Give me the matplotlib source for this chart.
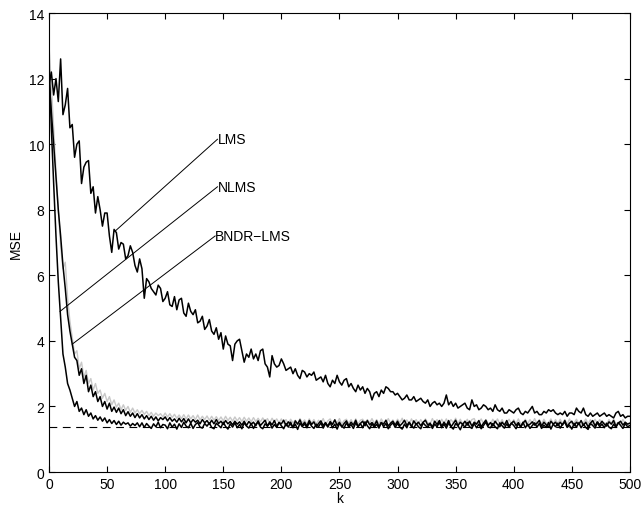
#!/usr/bin/env python3
"""Learning curves (MSE vs k) for LMS, NLMS and BNDR-LMS."""

import matplotlib

matplotlib.use("Agg")
import matplotlib.pyplot as plt
import numpy as np


# sampled every 2 iterations, k = 0 .. 500
K_STEP = 2
K_MAX = 500

LMS = [
    11.8, 12.2, 11.5, 12.0, 11.3, 12.6, 10.9, 11.2, 11.7, 10.5,
    10.6, 9.6, 10.0, 10.1, 8.8, 9.3, 9.45, 9.5, 8.5, 8.7,
    7.9, 8.4, 8.0, 7.5, 7.9, 7.9, 7.2, 6.7, 7.4, 7.3,
    6.8, 7.0, 6.95, 6.5, 6.6, 6.9, 6.7, 6.3, 6.1, 6.5,
    6.2, 5.3, 5.9, 5.8, 5.6, 5.5, 5.4, 5.7, 5.6, 5.2,
    5.3, 5.5, 5.1, 5.05, 5.35, 4.95, 5.25, 5.3, 4.85, 4.75,
    5.15, 4.9, 4.8, 4.95, 4.55, 4.6, 4.75, 4.35, 4.45, 4.65,
    4.3, 4.2, 4.4, 4.05, 4.25, 3.75, 4.15, 3.9, 3.85, 3.4,
    3.9, 4.0, 4.05, 3.7, 3.35, 3.6, 3.5, 3.75, 3.45, 3.6,
    3.4, 3.7, 3.75, 3.3, 3.2, 2.9, 3.55, 3.3, 3.2, 3.25,
    3.45, 3.3, 3.1, 3.15, 3.2, 3.0, 3.15, 2.95, 2.85, 3.1,
    3.05, 2.9, 3.0, 2.95, 3.05, 2.8, 2.85, 2.9, 2.75, 2.95,
    2.7, 2.6, 2.8, 2.7, 2.95, 2.75, 2.65, 2.8, 2.85, 2.6,
    2.7, 2.55, 2.45, 2.65, 2.5, 2.6, 2.4, 2.55, 2.45, 2.2,
    2.4, 2.45, 2.3, 2.5, 2.4, 2.6, 2.55, 2.45, 2.45, 2.35,
    2.4, 2.3, 2.2, 2.25, 2.35, 2.2, 2.2, 2.3, 2.15, 2.2,
    2.25, 2.15, 2.1, 2.2, 2.0, 2.1, 2.15, 2.05, 2.1, 2.0,
    2.1, 2.35, 2.05, 2.15, 2.0, 2.1, 1.95, 2.0, 2.05, 2.1,
    1.95, 1.9, 2.2, 2.0, 2.05, 1.9, 1.95, 2.05, 2.0, 1.9,
    1.95, 1.85, 2.05, 1.9, 1.85, 1.95, 1.8, 1.8, 1.9, 1.85,
    1.8, 1.9, 1.95, 1.8, 1.75, 1.85, 1.8, 1.9, 2.0, 1.8,
    1.85, 1.75, 1.75, 1.85, 1.8, 1.9, 1.85, 1.9, 1.8, 1.75,
    1.8, 1.75, 1.85, 1.7, 1.8, 1.8, 1.75, 1.95, 1.85, 1.8,
    1.95, 1.75, 1.7, 1.8, 1.7, 1.75, 1.8, 1.7, 1.75, 1.8,
    1.7, 1.75, 1.7, 1.65, 1.8, 1.85, 1.7, 1.75, 1.65, 1.7,
    1.7,
]

NLMS = [
    12.5, 10.5, 8.8, 7.2, 5.8, 4.7, 3.6, 3.2, 2.7, 2.5,
    2.25, 2.0, 2.15, 1.85, 1.95, 1.75, 1.9, 1.7, 1.8, 1.62,
    1.72, 1.58, 1.68, 1.55, 1.65, 1.5, 1.6, 1.48, 1.57, 1.45,
    1.55, 1.43, 1.52, 1.46, 1.5, 1.4, 1.48, 1.42, 1.5, 1.38,
    1.5, 1.36, 1.48, 1.4, 1.33, 1.47, 1.38, 1.52, 1.35, 1.45,
    1.43, 1.32, 1.5, 1.37, 1.46, 1.31, 1.47, 1.36, 1.52, 1.4,
    1.35, 1.49, 1.33, 1.45, 1.51, 1.37, 1.34, 1.48, 1.4, 1.5,
    1.36, 1.32, 1.49, 1.42, 1.35, 1.52, 1.39, 1.31, 1.47, 1.37,
    1.5, 1.35, 1.45, 1.32, 1.5, 1.4, 1.34, 1.48, 1.33, 1.46,
    1.52, 1.37, 1.32, 1.47, 1.4, 1.5, 1.34, 1.45, 1.36, 1.51,
    1.41, 1.32, 1.48, 1.37, 1.52, 1.35, 1.46, 1.3, 1.49, 1.38,
    1.47, 1.35, 1.51, 1.4, 1.33, 1.46, 1.38, 1.5, 1.34, 1.48,
    1.37, 1.51, 1.35, 1.46, 1.31, 1.48, 1.4, 1.34, 1.5, 1.37,
    1.45, 1.33, 1.5, 1.38, 1.48, 1.35, 1.53, 1.41, 1.32, 1.47,
    1.36, 1.46, 1.34, 1.51, 1.38, 1.48, 1.32, 1.43, 1.5, 1.36,
    1.48, 1.37, 1.31, 1.46, 1.35, 1.52, 1.41, 1.34, 1.48, 1.38,
    1.32, 1.5, 1.42, 1.36, 1.48, 1.33, 1.46, 1.38, 1.52, 1.35,
    1.46, 1.34, 1.5, 1.38, 1.31, 1.48, 1.41, 1.29, 1.46, 1.36,
    1.51, 1.38, 1.33, 1.48, 1.35, 1.46, 1.32, 1.42, 1.52, 1.37,
    1.35, 1.48, 1.38, 1.32, 1.5, 1.41, 1.34, 1.47, 1.36, 1.49,
    1.42, 1.32, 1.48, 1.37, 1.52, 1.35, 1.46, 1.33, 1.42, 1.5,
    1.37, 1.48, 1.33, 1.43, 1.36, 1.51, 1.31, 1.46, 1.38, 1.49,
    1.34, 1.46, 1.52, 1.36, 1.43, 1.31, 1.48, 1.37, 1.5, 1.35,
    1.46, 1.36, 1.3, 1.48, 1.42, 1.34, 1.51, 1.38, 1.46, 1.35,
    1.49, 1.37, 1.32, 1.46, 1.36, 1.51, 1.42, 1.33, 1.48, 1.38,
    1.42,
]

BNDR_LMS = [
    12.0, 11.0, 10.0, 9.0, 8.0, 7.2, 6.3, 5.6, 4.8, 4.3,
    3.9, 3.5, 3.4, 2.95, 3.15, 2.7, 2.95, 2.45, 2.65, 2.3,
    2.45, 2.15, 2.3, 2.0, 2.15, 1.92, 2.1, 1.85, 1.98, 1.82,
    1.95, 1.78, 1.9, 1.72, 1.84, 1.7, 1.8, 1.66, 1.78, 1.65,
    1.75, 1.62, 1.72, 1.6, 1.7, 1.58, 1.68, 1.56, 1.66, 1.6,
    1.68, 1.56, 1.66, 1.55, 1.62, 1.52, 1.64, 1.53, 1.63, 1.5,
    1.62, 1.5, 1.6, 1.52, 1.58, 1.47, 1.6, 1.5, 1.57, 1.46,
    1.58, 1.47, 1.6, 1.48, 1.55, 1.45, 1.57, 1.47, 1.54, 1.44,
    1.55, 1.46, 1.53, 1.43, 1.55, 1.42, 1.54, 1.46, 1.52, 1.41,
    1.56, 1.42, 1.5, 1.58, 1.4, 1.53, 1.44, 1.57, 1.39, 1.51,
    1.47, 1.58, 1.41, 1.53, 1.45, 1.37, 1.56, 1.46, 1.59, 1.42,
    1.52, 1.4, 1.57, 1.45, 1.53, 1.38, 1.48, 1.56, 1.42, 1.51,
    1.4, 1.54, 1.45, 1.59, 1.42, 1.52, 1.37, 1.48, 1.56, 1.41,
    1.52, 1.43, 1.58, 1.39, 1.48, 1.55, 1.41, 1.57, 1.44, 1.51,
    1.42, 1.56, 1.38, 1.51, 1.46, 1.58, 1.4, 1.49, 1.55, 1.43,
    1.55, 1.41, 1.48, 1.58, 1.42, 1.51, 1.38, 1.56, 1.45, 1.52,
    1.41, 1.52, 1.58, 1.43, 1.49, 1.37, 1.55, 1.45, 1.57, 1.4,
    1.52, 1.42, 1.57, 1.38, 1.48, 1.58, 1.41, 1.52, 1.45, 1.55,
    1.43, 1.55, 1.4, 1.52, 1.46, 1.57, 1.38, 1.49, 1.58, 1.42,
    1.51, 1.4, 1.55, 1.45, 1.38, 1.52, 1.43, 1.57, 1.4, 1.49,
    1.55, 1.42, 1.51, 1.38, 1.49, 1.57, 1.41, 1.46, 1.53, 1.43,
    1.49, 1.57, 1.4, 1.52, 1.44, 1.37, 1.55, 1.46, 1.52, 1.41,
    1.52, 1.43, 1.57, 1.39, 1.49, 1.55, 1.41, 1.52, 1.45, 1.57,
    1.42, 1.52, 1.38, 1.49, 1.57, 1.41, 1.53, 1.44, 1.55, 1.46,
    1.4, 1.53, 1.46, 1.57, 1.39, 1.49, 1.55, 1.43, 1.52, 1.46,
    1.49,
]

# light grey curve (unlabelled in the original)
GREY = [
    13.0, 11.8, 10.5, 9.2, 8.0, 6.9, 6.2, 6.4, 5.3, 4.6,
    4.1, 3.6, 3.7, 3.15, 3.35, 2.9, 3.1, 2.7, 2.85, 2.5,
    2.7, 2.4, 2.5, 2.25, 2.4, 2.15, 2.3, 2.05, 2.2, 1.98,
    2.1, 1.9, 2.05, 1.88, 2.0, 1.82, 1.95, 1.8, 1.9, 1.78,
    1.88, 1.76, 1.85, 1.72, 1.82, 1.7, 1.8, 1.72, 1.78, 1.68,
    1.8, 1.68, 1.78, 1.66, 1.76, 1.64, 1.74, 1.63, 1.75, 1.62,
    1.74, 1.62, 1.72, 1.6, 1.74, 1.59, 1.7, 1.6, 1.71, 1.58,
    1.7, 1.58, 1.69, 1.57, 1.68, 1.56, 1.7, 1.57, 1.67, 1.55,
    1.68, 1.56, 1.66, 1.54, 1.67, 1.55, 1.65, 1.53, 1.66, 1.54,
    1.64, 1.53, 1.65, 1.52, 1.63, 1.5, 1.64, 1.53, 1.62, 1.5,
    1.62, 1.49, 1.6, 1.47, 1.61, 1.5, 1.58, 1.46, 1.63, 1.5,
    1.59, 1.46, 1.62, 1.49, 1.6, 1.47, 1.58, 1.5, 1.63, 1.46,
    1.56, 1.62, 1.47, 1.6, 1.49, 1.63, 1.46, 1.57, 1.61, 1.48,
    1.6, 1.47, 1.62, 1.46, 1.58, 1.61, 1.48, 1.6, 1.5, 1.63,
    1.48, 1.6, 1.46, 1.62, 1.5, 1.47, 1.63, 1.49, 1.59, 1.46,
    1.61, 1.5, 1.64, 1.47, 1.59, 1.46, 1.62, 1.48, 1.6, 1.47,
    1.6, 1.46, 1.62, 1.5, 1.47, 1.63, 1.48, 1.6, 1.45, 1.61,
    1.48, 1.62, 1.46, 1.6, 1.5, 1.64, 1.47, 1.61, 1.48, 1.46,
    1.61, 1.47, 1.6, 1.63, 1.46, 1.5, 1.62, 1.47, 1.6, 1.48,
    1.46, 1.61, 1.48, 1.62, 1.47, 1.6, 1.45, 1.5, 1.61, 1.47,
    1.6, 1.48, 1.62, 1.46, 1.5, 1.61, 1.47, 1.6, 1.48, 1.63,
    1.47, 1.6, 1.46, 1.61, 1.48, 1.5, 1.62, 1.46, 1.6, 1.47,
    1.61, 1.48, 1.6, 1.46, 1.62, 1.47, 1.5, 1.61, 1.48, 1.45,
    1.5, 1.62, 1.47, 1.6, 1.46, 1.61, 1.48, 1.6, 1.47, 1.5,
    1.46, 1.6, 1.48, 1.61, 1.47, 1.5, 1.46, 1.6, 1.48, 1.47,
    1.5,
]

MMSE_FLOOR = 1.37

# label text, where the text sits, and the point on the curve it points to
LABELS = ["LMS", "NLMS", "BNDR\u2212LMS"]
LABEL_POS = [(145, 10.15), (145, 8.7), (143, 7.2)]
LABEL_TARGET = [(57, 7.35), (9.5, 4.9), (20, 3.9)]


def main() -> int:
    plt.rcParams["font.family"] = ["Liberation Sans", "DejaVu Sans"]
    k = np.arange(0, K_MAX + 1, K_STEP)

    fig = plt.figure(figsize=(6.44, 5.10), dpi=100)
    ax = fig.add_axes([0.0761, 0.0725, 0.902, 0.9])

    ax.plot(k, GREY, color="#c8c8c8", linewidth=1.0)
    ax.plot(k, LMS, color="black", linewidth=1.1)
    ax.plot(k, BNDR_LMS, color="black", linewidth=1.1)
    ax.plot(k, NLMS, color="black", linewidth=1.1)
    ax.axhline(MMSE_FLOOR, color="black", linewidth=0.8, linestyle=(0, (7, 5)))

    for text, (tx, ty), (px, py) in zip(LABELS, LABEL_POS, LABEL_TARGET):
        ax.plot([px, tx], [py, ty], color="black", linewidth=0.7)
        ax.text(tx, ty, text, fontsize=10, ha="left", va="center")

    ax.set_xlim(0, 500)
    ax.set_ylim(0, 14)
    ax.set_xticks(np.arange(0, 501, 50))
    ax.set_yticks(np.arange(0, 15, 2))
    ax.tick_params(direction="in", length=4, width=0.8, top=True, right=True, labelsize=10)
    for spine in ax.spines.values():
        spine.set_linewidth(0.8)
    ax.set_xlabel("k", fontsize=10, labelpad=0)
    ax.set_ylabel("MSE", fontsize=10, labelpad=4)

    fig.savefig("out.png", dpi=100)
    plt.close(fig)
    return 0


if __name__ == "__main__":
    raise SystemExit(main())
